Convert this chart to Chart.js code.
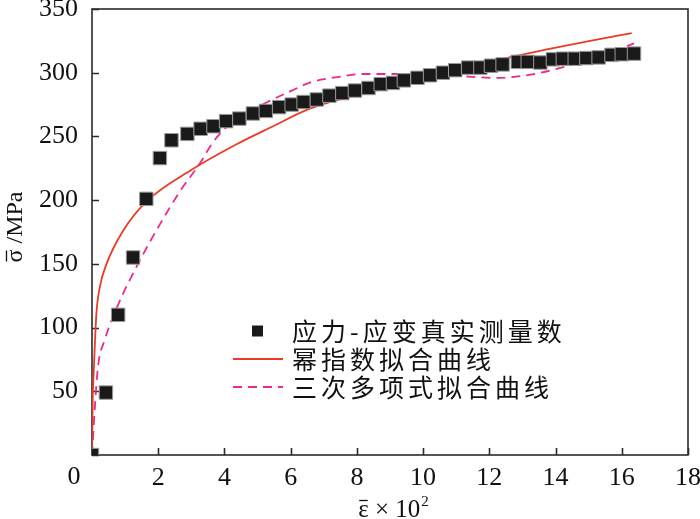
<!DOCTYPE html>
<html>
<head>
<meta charset="utf-8">
<script src="https://cdn.jsdelivr.net/npm/chart.js@4"></script>
<style>
  html, body { margin: 0; padding: 0; background: #fff; }
  #wrap { width: 700px; height: 519px; }
</style>
</head>
<body>
<div id="wrap"><canvas id="stressChart" width="700" height="519"></canvas></div>
<script>
// measured true stress-strain points (strain x10^2, stress MPa)
const measuredX = [0, 0.42, 0.79, 1.24, 1.64, 2.05, 2.40, 2.88, 3.28, 3.67,
  4.05, 4.45, 4.86, 5.25, 5.65, 6.03, 6.39, 6.79, 7.17, 7.56,
  7.94, 8.35, 8.72, 9.09, 9.42, 9.83, 10.21, 10.60, 10.97, 11.36,
  11.73, 12.05, 12.40, 12.86, 13.16, 13.54, 13.92, 14.22, 14.58, 14.93,
  15.30, 15.69, 16.00, 16.37];
const measuredY = [0, 49, 110, 155, 201, 233, 247, 252, 256, 258,
  262, 264, 268, 270, 273, 275, 277, 279, 282, 284,
  286, 288, 291, 292, 294, 296, 298, 300, 302, 304,
  304, 305.5, 306.5, 308.5, 308.5, 308, 310.5, 311, 311, 311.5,
  312, 314, 314.5, 315];

// power-law fit curve
const powerX = [0, 0.02, 0.06, 0.13, 0.23, 0.44, 0.94, 1.65, 2.96, 4.38, 5.39, 6.6, 8.72, 10.2, 11.44, 12.45, 14.47, 16.3];
const powerY = [0, 40, 70, 110, 131, 150, 176, 199, 223, 244, 257, 272, 287, 297, 304, 311, 322, 331];

// cubic polynomial fit curve
const cubicX = [0, 0.08, 0.18, 0.38, 0.79, 1.39, 2.05, 2.66, 3.26, 3.67, 4.22, 5.3, 6.0, 6.6, 7.4, 8.2, 9.2, 10.0, 11.0, 11.65, 12.05, 12.66, 13.47, 14.27, 14.98, 15.69, 16.37];
const cubicY = [0, 35, 69, 90, 118, 150, 181, 207, 229, 246, 261, 277, 285.5, 292.5, 296.5, 299, 299, 298.5, 297.5, 296.5, 296, 296.5, 299.5, 304.7, 310, 316.4, 323];

const seriesNames = ["应力-应变真实测量数", "幂指数拟合曲线", "三次多项式拟合曲线"];
const xTicks = [0, 2, 4, 6, 8, 10, 12, 14, 16, 18];
const yTicks = [0, 50, 100, 150, 200, 250, 300, 350];

const RED = "#ec3b25";
const PINK = "#ea2a8f";
const INK = "#1a1a1a";
const SERIF = '"Liberation Serif", "Times New Roman", serif';

function toPoints(xs, ys) {
  return xs.map((x, i) => ({ x: x, y: ys[i] }));
}

const decorPlugin = {
  id: "decor",
  afterDraw(chart) {
    const { ctx, chartArea: a, scales } = chart;

    // frame and inward ticks, put behind everything already drawn
    ctx.save();
    ctx.globalCompositeOperation = "destination-over";
    ctx.strokeStyle = "#2a2a2a";
    ctx.lineWidth = 1.6;
    ctx.strokeRect(a.left, a.top, a.right - a.left, a.bottom - a.top);
    ctx.beginPath();
    xTicks.forEach(v => {
      const px = Math.round(scales.x.getPixelForValue(v)) + 0.5;
      ctx.moveTo(px, a.bottom);
      ctx.lineTo(px, a.bottom - 7);
    });
    yTicks.forEach(v => {
      const py = Math.round(scales.y.getPixelForValue(v)) + 0.5;
      ctx.moveTo(a.left, py);
      ctx.lineTo(a.left + 7, py);
    });
    ctx.stroke();
    ctx.restore();

    ctx.save();
    ctx.fillStyle = "#111";
    ctx.strokeStyle = "#111";

    // shared "0" at the corner
    ctx.font = "26px " + SERIF;
    ctx.textAlign = "center";
    ctx.textBaseline = "alphabetic";
    ctx.fillText("0", scales.x.getPixelForValue(0) - 18, 484);

    // x title: ε̄ × 10²
    ctx.textAlign = "left";
    ctx.font = "25px " + SERIF;
    const w1 = ctx.measureText("ε").width;
    const w2 = ctx.measureText(" × 10").width;
    ctx.font = "15px " + SERIF;
    const w3 = ctx.measureText("2").width;
    const sx = 393 - (w1 + w2 + w3) / 2;
    const base = 517;
    ctx.font = "25px " + SERIF;
    ctx.fillText("ε", sx, base);
    ctx.lineWidth = 1.3;
    ctx.beginPath();
    ctx.moveTo(sx + 1, base - 16.5);
    ctx.lineTo(sx + w1 - 1, base - 16.5);
    ctx.stroke();
    ctx.fillText(" × 10", sx + w1, base);
    ctx.font = "15px " + SERIF;
    ctx.fillText("2", sx + w1 + w2 + 1, base - 11);

    // y title: σ̄ /MPa (rotated)
    ctx.save();
    ctx.translate(22, 227);
    ctx.rotate(-Math.PI / 2);
    ctx.font = "24px " + SERIF;
    const ws = ctx.measureText("σ").width;
    const wr = ctx.measureText(" /MPa").width;
    const ty = -(ws + wr) / 2;
    ctx.fillText("σ", ty, 0);
    ctx.beginPath();
    ctx.moveTo(ty + 1, -15.5);
    ctx.lineTo(ty + ws - 1, -15.5);
    ctx.stroke();
    ctx.fillText(" /MPa", ty + ws, 0);
    ctx.restore();

    // legend inside the plot
    const rows = [331, 359, 387];
    ctx.font = '25px "Noto Sans CJK SC"';
    ctx.letterSpacing = "4px";
    ctx.textBaseline = "middle";
    seriesNames.forEach((name, i) => {
      ctx.fillStyle = "#111";
      ctx.fillText(name, 292, rows[i]);
    });
    ctx.letterSpacing = "0px";
    ctx.fillStyle = INK;
    ctx.fillRect(252, rows[0] - 5.5, 11, 11);
    ctx.lineWidth = 1.8;
    ctx.strokeStyle = RED;
    ctx.beginPath();
    ctx.moveTo(233, rows[1]);
    ctx.lineTo(283, rows[1]);
    ctx.stroke();
    ctx.strokeStyle = PINK;
    ctx.setLineDash([9, 6]);
    ctx.beginPath();
    ctx.moveTo(233, rows[2]);
    ctx.lineTo(283, rows[2]);
    ctx.stroke();
    ctx.restore();
  }
};

new Chart(document.getElementById("stressChart").getContext("2d"), {
  type: "scatter",
  data: {
    datasets: [
      {
        label: seriesNames[0],
        data: toPoints(measuredX, measuredY),
        pointStyle: "rect",
        pointRadius: 9.5,
        backgroundColor: INK,
        borderColor: "#9a9a9a",
        borderWidth: 1
      },
      {
        label: seriesNames[1],
        data: toPoints(powerX, powerY),
        showLine: true,
        pointRadius: 0,
        borderColor: RED,
        borderWidth: 1.8,
        cubicInterpolationMode: "monotone"
      },
      {
        label: seriesNames[2],
        data: toPoints(cubicX, cubicY),
        showLine: true,
        pointRadius: 0,
        borderColor: PINK,
        borderWidth: 1.8,
        borderDash: [9, 6],
        cubicInterpolationMode: "monotone"
      }
    ]
  },
  options: {
    responsive: false,
    animation: false,
    layout: { autoPadding: false, padding: { top: 9, right: 12, left: 0, bottom: 0 } },
    plugins: {
      legend: { display: false },
      tooltip: { enabled: false }
    },
    scales: {
      x: {
        type: "linear",
        min: 0,
        max: 18,
        afterBuildTicks: s => { s.ticks = xTicks.map(v => ({ value: v })); },
        afterFit: s => { s.height = 64; s.paddingLeft = 0; s.paddingRight = 0; },
        grid: { display: false },
        border: { display: false },
        ticks: {
          autoSkip: false,
          maxRotation: 0,
          padding: 0,
          color: "#111",
          font: { family: SERIF, size: 26 },
          callback: v => (v === 0 ? "" : v)
        }
      },
      y: {
        min: 0,
        max: 350,
        afterBuildTicks: s => { s.ticks = yTicks.map(v => ({ value: v })); },
        afterFit: s => { s.width = 92; s.paddingTop = 0; s.paddingBottom = 0; },
        grid: { display: false },
        border: { display: false },
        ticks: {
          padding: 6,
          color: "#111",
          font: { family: SERIF, size: 26 },
          callback: v => (v === 0 ? "" : v)
        }
      }
    }
  },
  plugins: [decorPlugin]
});
</script>
</body>
</html>
